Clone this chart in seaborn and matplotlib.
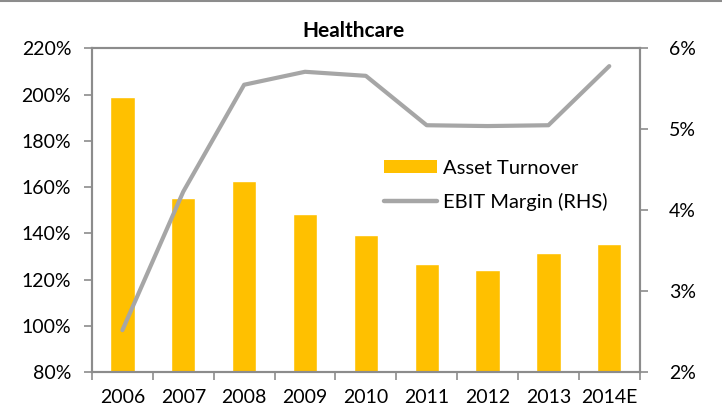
import matplotlib
matplotlib.use("Agg")
import matplotlib.pyplot as plt
from matplotlib.lines import Line2D
from matplotlib.patches import Patch
from matplotlib.ticker import FuncFormatter, MultipleLocator
import seaborn as sns
import pandas as pd

years = ["2006", "2007", "2008", "2009", "2010", "2011", "2012", "2013", "2014E"]
asset_turnover = [198.8, 155.3, 162.5, 148.5, 139.4, 126.8, 124.0, 131.6, 135.3]  # %
ebit_margin = [2.52, 4.23, 5.55, 5.71, 5.66, 5.05, 5.04, 5.05, 5.78]  # %

df = pd.DataFrame({"year": years, "turnover": asset_turnover, "margin": ebit_margin})

sns.set_theme(style="white")
plt.rcParams["font.family"] = ["Lato", "DejaVu Sans"]
plt.rcParams["text.color"] = "black"
plt.rcParams["axes.titlecolor"] = "black"

GOLD = "#FFC000"
GREY_LINE = "#A6A6A6"
SPINE = "#8C8C8C"

fig = plt.figure(figsize=(7.22, 4.11), dpi=100)
ax = fig.add_axes([0.1274, 0.0942, 0.886 - 0.1274, 0.8825 - 0.0942])

sns.barplot(data=df, x="year", y="turnover", color=GOLD, saturation=1,
            width=0.4, ax=ax, zorder=2)
ax.set_ylim(80, 220)
ax.yaxis.set_major_locator(MultipleLocator(20))
ax.yaxis.set_major_formatter(FuncFormatter(lambda v, _: f"{v:.0f}%"))
ax.set_xlim(-0.5, len(years) - 0.5)
ax.set_xlabel("")
ax.set_ylabel("")

ax2 = ax.twinx()
sns.lineplot(data=df, x="year", y="margin", color=GREY_LINE, linewidth=3,
             sort=False, ax=ax2, zorder=3)
ax2.set_ylim(2, 6)
ax2.yaxis.set_major_locator(MultipleLocator(1))
ax2.yaxis.set_major_formatter(FuncFormatter(lambda v, _: f"{v:.0f}%"))
ax2.set_ylabel("")
ax2.set_xlim(-0.5, len(years) - 0.5)

for a in (ax, ax2):
    for s in a.spines.values():
        s.set_color(SPINE)
        s.set_linewidth(1.5)
        s.set_visible(True)

# x ticks sit between categories, labels centered under bars
ax.set_xticks([i + 0.5 for i in range(-1, len(years))], minor=False)
ax.set_xticklabels([""] * (len(years) + 1))
ax.set_xticks(range(len(years)), minor=True)
ax.set_xticklabels(years, minor=True)
ax.tick_params(axis="x", which="major", direction="out", length=6, width=1.2,
               color=SPINE, bottom=True)
ax.tick_params(axis="x", which="minor", length=0, labelsize=14, pad=12,
               labelcolor="black")
ax.tick_params(axis="y", direction="out", length=6, width=1.2, color=SPINE,
               left=True, labelsize=14, pad=9, labelcolor="black")
ax2.tick_params(axis="y", direction="out", length=6, width=1.2, color=SPINE,
                right=True, labelsize=14, pad=15, labelcolor="black")

ax.set_title("Healthcare", fontsize=15, fontweight="bold", pad=8, x=0.478)

handles = [Patch(facecolor=GOLD, edgecolor="none"),
           Line2D([], [], color=GREY_LINE, linewidth=3.2)]
ax2.legend(handles, ["Asset Turnover", "EBIT Margin (RHS)"], loc="upper left",
           bbox_to_anchor=(0.5, 0.712), frameon=False, fontsize=14.5,
           handlelength=2.65, handleheight=0.6, handletextpad=0.3,
           labelspacing=0.8)

# thin rule along the top edge of the figure
fig.add_artist(Line2D([0, 1], [0.998, 0.998], transform=fig.transFigure,
                      color=SPINE, linewidth=1.5))

fig.savefig("out.png", dpi=100)
